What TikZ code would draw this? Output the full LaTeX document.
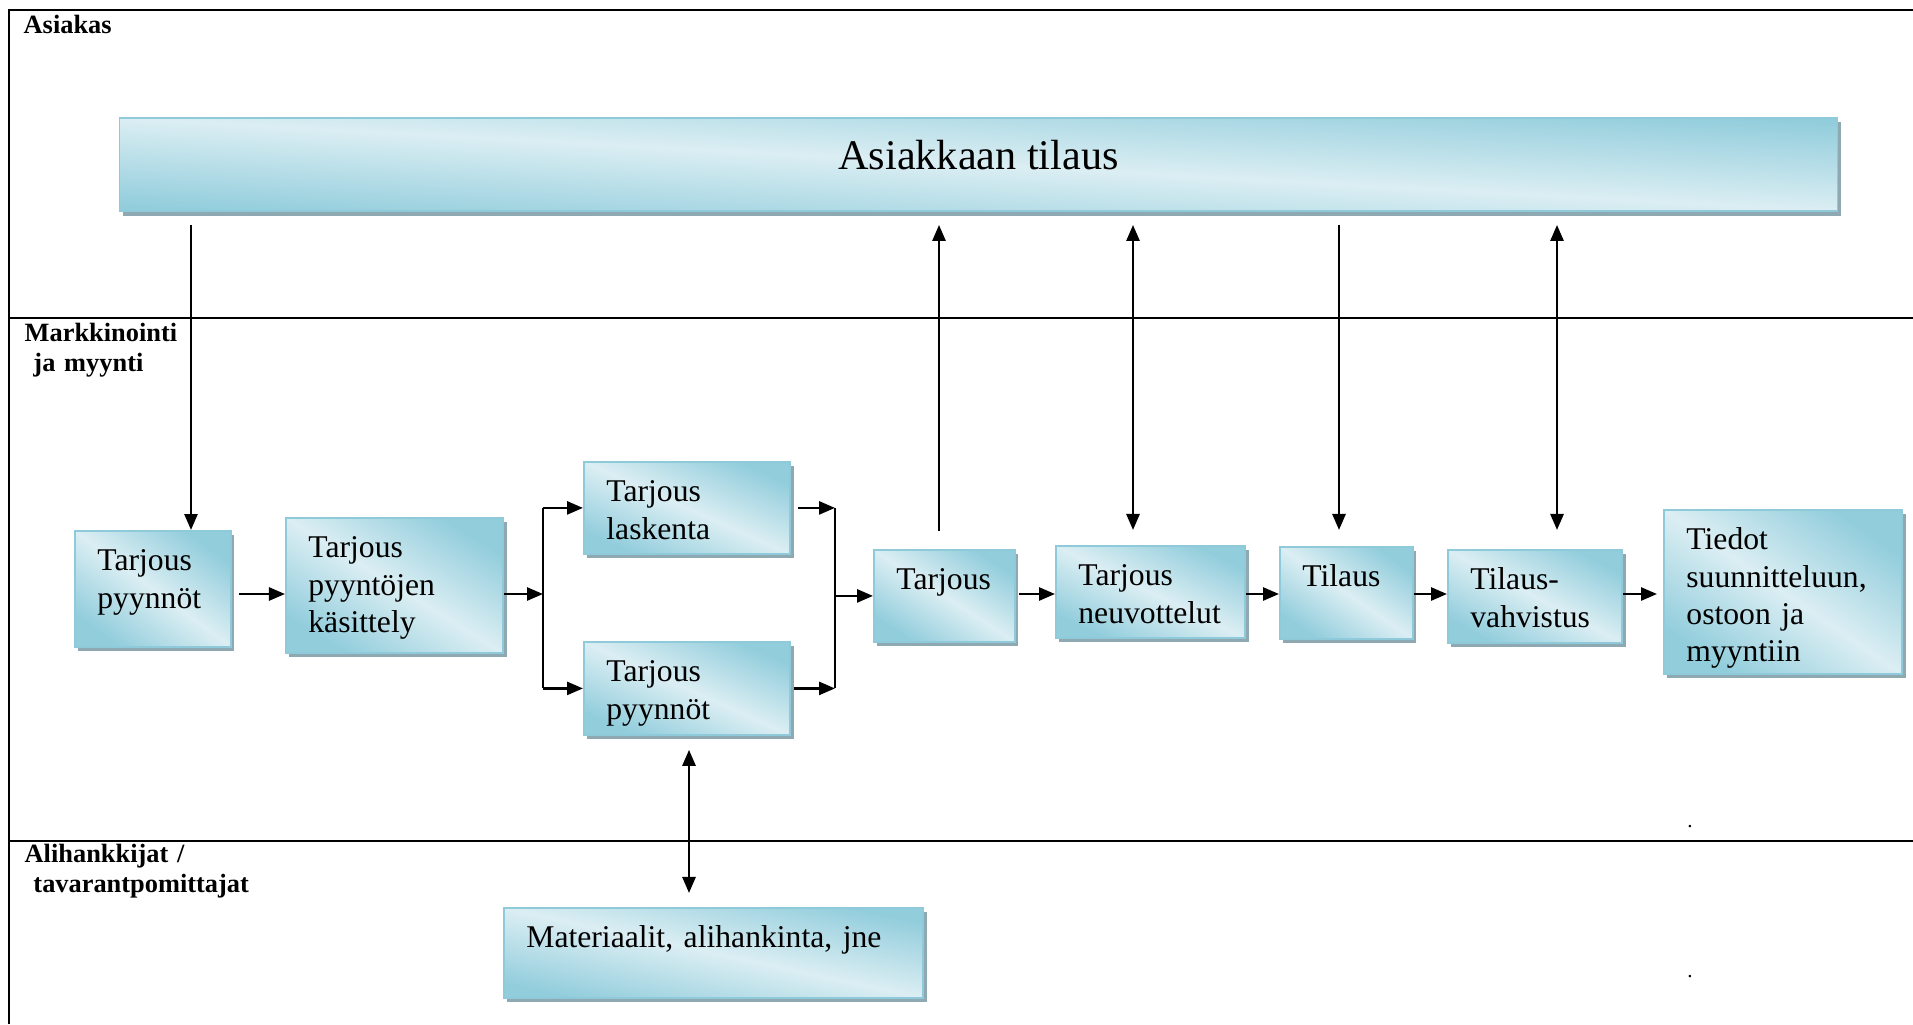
\documentclass[tikz,border=0pt]{standalone}
\usepackage{fontspec}
\setmainfont{Liberation Serif}
\usetikzlibrary{arrows.meta, shadows}

\definecolor{boxdark}{HTML}{92CDDC}
\definecolor{boxlight}{HTML}{DBEEF3}
\definecolor{boxedge}{HTML}{8FCADA}
\definecolor{boxshade}{HTML}{8EA9B1}

\newcommand{\boxfont}{\fontsize{9}{10.55}\selectfont}
\newcommand{\lanefont}{\bfseries\fontsize{7.5}{8.6}\selectfont}
\hyphenpenalty=10000

\begin{document}
\begin{tikzpicture}[
    x=0.01cm, y=-0.01cm,
    bluefill/.style={draw=boxedge, line width=0.5pt, top color=boxdark, bottom color=boxdark, middle color=boxlight,
        drop shadow={shadow xshift=0.035cm, shadow yshift=-0.045cm, fill=boxshade, opacity=1}},
    box/.style={bluefill, anchor=north west, align=left, font=\boxfont, inner xsep=0.225cm, inner ysep=0.18cm, text height=0.22cm},
    lane/.style={anchor=base west, inner sep=0pt, align=left, text width=3cm, font=\lanefont},
    frame/.style={line width=0.8pt},
    conn/.style={line width=0.75pt},
    arr/.style={conn, -{Triangle[length=0.16cm, width=0.13cm]}},
    darr/.style={conn, {Triangle[length=0.16cm, width=0.13cm]}-{Triangle[length=0.16cm, width=0.13cm]}}
]
\useasboundingbox (0,0) rectangle (1913,1024);

% Swimlanes
\draw[frame] (9,1024) -- (9,10) -- (1913,10);
\draw[frame] (9,318) -- (1913,318);
\draw[frame] (9,841) -- (1913,841);

\node[lane] (laneA) at (23,34) {Asiakas};
\node[lane] (laneB) at (24,341) {Markkinointi\\\mbox{}\ ja myynti};
\node[lane] (laneC) at (24,862) {Alihankkijat /\\\mbox{}\ tavarantpomittajat};

% Customer
\node[bluefill, shading angle=-3.1, minimum width=17.17cm, minimum height=0.93cm, inner sep=0pt, font=\fontsize{12}{14}\selectfont,
      text height=0.29cm, text depth=0.2cm] (order) at (978.5,164.5) {Asiakkaan tilaus};

% Sales process
\node[box, shading angle=-36.6, text width=1.11cm, text depth=0.58cm] (req) at (74,530) {Tarjous\\pyynnöt};
\node[box, shading angle=-31.9, text width=1.72cm, text depth=0.77cm] (handle) at (285,517) {Tarjous\\pyyntöjen\\käsittely};
\node[box, shading angle=-24.1, text width=1.61cm, text depth=0.34cm] (calc) at (583,461) {Tarjous\\laskenta};
\node[box, shading angle=-24.3, text width=1.61cm, text depth=0.35cm] (req2) at (583,641) {Tarjous\\pyynnöt};
\node[box, shading angle=-33.1, text width=0.96cm, text depth=0.34cm] (offer) at (873,549) {Tarjous};
\node[box, shading angle=-26.0, text width=1.44cm, text depth=0.34cm] (neg) at (1055,545) {Tarjous\\neuvottelut};
\node[box, shading angle=-34.7, text width=0.88cm, text depth=0.34cm] (ord) at (1279,546) {Tilaus};
\node[box, shading angle=-28.1, text width=1.29cm, text depth=0.35cm] (conf) at (1447,549) {Tilaus-\\vahvistus};
\node[box, shading angle=-34.6, text width=1.93cm, text depth=1.06cm] (info) at (1663,509) {Tiedot\\suunnitteluun,\\ostoon ja\\myyntiin};

% Suppliers
\node[box, shading angle=-12.1, text width=3.74cm, text depth=0.32cm] (mat) at (503,907) {Materiaalit, alihankinta, jne};

\node[font=\fontsize{6}{7}\selectfont, inner sep=0pt, anchor=base] (dotA) at (1690,827) {.};
\node[font=\fontsize{6}{7}\selectfont, inner sep=0pt, anchor=base] (dotB) at (1690,977) {.};

% Connector columns and row
\coordinate (cReq) at (191,0);
\coordinate (cOffer) at (939,0);
\coordinate (cNeg) at (1133,0);
\coordinate (cOrd) at (1339,0);
\coordinate (cConf) at (1557,0);
\coordinate (cMat) at (689,0);
\coordinate (cSplit) at (543,0);
\coordinate (cJoin) at (835,0);
\coordinate (row) at (0,594);

% Vertical connectors
\draw[arr] ([yshift=-0.13cm]order.south -| cReq) -- (req.north -| cReq);
\draw[arr] ([yshift=0.18cm]offer.north -| cOffer) -- ([yshift=-0.13cm]order.south -| cOffer);
\draw[darr] ([yshift=0.15cm]neg.north -| cNeg) -- ([yshift=-0.13cm]order.south -| cNeg);
\draw[arr] ([yshift=-0.13cm]order.south -| cOrd) -- ([yshift=0.16cm]ord.north -| cOrd);
\draw[darr] ([yshift=0.19cm]conf.north -| cConf) -- ([yshift=-0.13cm]order.south -| cConf);
\draw[darr] ([yshift=-0.14cm]req2.south -| cMat) -- ([yshift=0.14cm]mat.north -| cMat);

% Horizontal connectors
\draw[arr] ([xshift=0.07cm]req.east |- row) -- (handle.west |- row);
\draw[arr] (handle.east |- row) -- (cSplit |- row);
\draw[conn] (cSplit |- calc.west) -- (cSplit |- req2.west);
\draw[arr] (cSplit |- calc.west) -- (calc.west);
\draw[arr] (cSplit |- req2.west) -- (req2.west);
\draw[arr] ([xshift=0.07cm]calc.east) -- (cJoin |- calc.east);
\draw[arr] ([xshift=0.03cm]req2.east) -- (cJoin |- req2.east);
\draw[conn] (cJoin |- calc.east) -- (cJoin |- req2.east);
\draw[arr] (cJoin |- offer.west) -- (offer.west);
\draw[arr] ([xshift=0.03cm]offer.east |- row) -- (neg.west |- row);
\draw[arr] (neg.east |- row) -- (ord.west |- row);
\draw[arr] (ord.east |- row) -- (conf.west |- row);
\draw[arr] (conf.east |- row) -- ([xshift=-0.06cm]info.west |- row);

\end{tikzpicture}
\end{document}
